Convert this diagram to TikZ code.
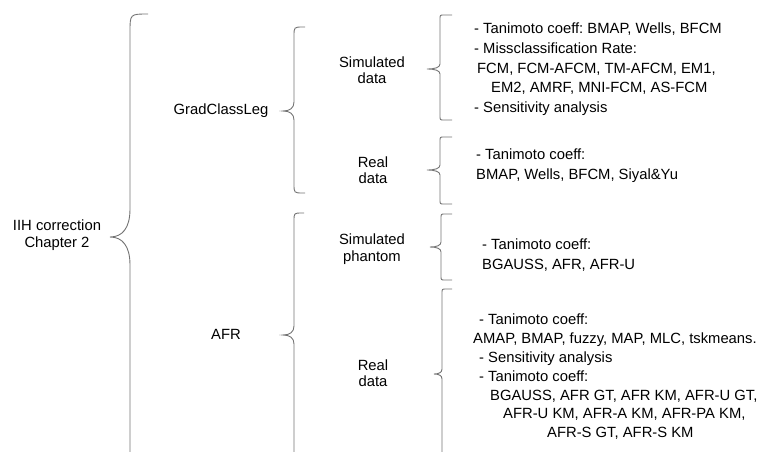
\documentclass[tikz,border=0pt]{standalone}
\usepackage{fontspec}
\setmainfont{Liberation Sans}
\usepackage{tikz}
\frenchspacing

\tikzset{
  brc/.style={black!55, line width=0.9pt},
  lbl/.style={font=\fontsize{14.8}{16.5}\selectfont, align=center, inner sep=0pt},
  lst/.style={font=\fontsize{14.8}{19.8}\selectfont, align=left, inner sep=0pt, anchor=north west},
}

% spine x, top, tip, bottom, end reach, curl, tip depth, tip half height
\newcommand{\cbrace}[8]{%
  \draw[brc] (#1+#5,#2) -- (#1+#6,#2) .. controls (#1,#2) .. (#1,#2+#6)
    -- (#1,#3-#8) .. controls (#1,#3-0.3*#8) and (#1-0.4*#7,#3) .. (#1-#7,#3)
    .. controls (#1-0.4*#7,#3) and (#1,#3+0.3*#8) .. (#1,#3+#8)
    -- (#1,#4-#6) .. controls (#1,#4) .. (#1+#6,#4) -- (#1+#5,#4);
}

\begin{document}
\begin{tikzpicture}[x=1pt, y=-1pt]
\useasboundingbox (0,0) rectangle (773,452);
\clip (0,0) rectangle (773,452);

\node[lbl] (root) at (57,235) {IIH correction\\Chapter 2};
\node[lbl] (grad) at (221,111) {GradClassLeg};
\node[lbl] (afr) at (226,334) {AFR};
\node[lbl] (simdata) at (372,70) {Simulated\\data};
\node[lbl] (realdata) at (373,170) {Real\\data};
\node[lbl] (simphan) at (372,249) {Simulated\\phantom};
\node[lbl] (realafr) at (373,373) {Real\\data};

\node[lst] (simres) at (474,22.5) {- Tanimoto coeff: BMAP, Wells, BFCM\\- Missclassification Rate:\\\hspace*{3pt}FCM, FCM-AFCM, TM-AFCM, EM1,\\\hspace*{17pt}EM2, AMRF, MNI-FCM, AS-FCM\\- Sensitivity analysis};
\node[lst] (realres) at (476,149) {- Tanimoto coeff:\\BMAP, Wells, BFCM, Siyal\&Yu};
\node[lst] (phanres) at (482,239) {- Tanimoto coeff:\\BGAUSS, AFR, AFR-U};
\node[lst, font=\fontsize{14.8}{18.8}\selectfont] (afrres) at (473,314) {\hspace*{6pt}- Tanimoto coeff:\\AMAP, BMAP, fuzzy, MAP, MLC, tskmeans.\\\hspace*{6pt}- Sensitivity analysis\\\hspace*{6pt}- Tanimoto coeff:\\\hspace*{17pt}BGAUSS, AFR GT, AFR KM, AFR-U GT,\\\hspace*{30pt}AFR-U KM, AFR-A KM, AFR-PA KM,\\\hspace*{74pt}AFR-S GT, AFR-S KM};

\cbrace{130}{14}{237}{466}{18}{18}{20}{28}
\cbrace{294}{27}{111}{193}{11}{9}{11}{9}
\cbrace{294}{213}{335}{475}{10}{8}{11}{9}
\cbrace{440}{15}{69}{120}{12}{4}{13}{5}
\cbrace{440}{137}{170}{204}{12}{4}{13}{5}
\cbrace{441}{214}{247}{280}{11}{4}{11}{5}
\cbrace{442}{289}{374}{475}{10}{4}{8}{5}
\end{tikzpicture}
\end{document}
